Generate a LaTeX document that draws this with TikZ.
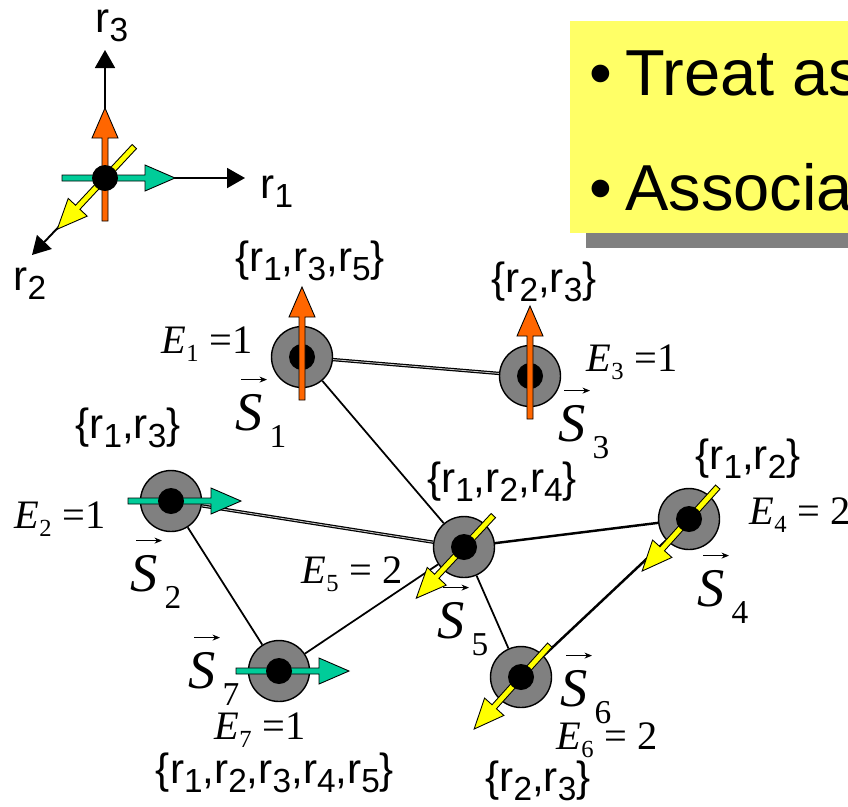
\documentclass[tikz,border=0pt]{standalone}
\usepackage{fontspec}
\setmainfont{Liberation Sans}
\newfontfamily\tms{Liberation Serif}
\usepackage{graphicx}
\usetikzlibrary{arrows.meta}
\definecolor{spinorange}{HTML}{FF6600}
\definecolor{spinteal}{HTML}{00CC99}
\definecolor{spinyellow}{HTML}{FFFF00}
\definecolor{notebg}{HTML}{FFFF66}
\definecolor{sitegray}{HTML}{808080}
\newcommand{\rsub}[1]{r\raisebox{-5pt}{\fontsize{19}{19}\selectfont #1}}
\newcommand{\Elbl}[2]{{\itshape E}\raisebox{-4.5pt}{\fontsize{14}{14}\selectfont #1}\hspace{6pt}#2}
\newcommand{\Slbl}[1]{{\itshape S}\kern4pt\raisebox{-10pt}{\fontsize{19}{19}\selectfont #1}}
\newcommand{\spinarrow}[3]{%
  \begin{scope}[shift={(#2)}, rotate=#3]
    \filldraw[fill=#1, draw=black, line width=0.5pt] (-43,-3) -- (40,-3) -- (40,-13) -- (70,0) -- (40,13) -- (40,3) -- (-43,3) -- cycle;
  \end{scope}}

\begin{document}
\begin{tikzpicture}[x=0.02cm, y=-0.02cm,
  site/.style={circle, draw, line width=0.8pt, fill=sitegray, minimum size=1.22cm, inner sep=0pt},
  setlbl/.style={font=\fontsize{24}{24}\selectfont, inner sep=0pt},
  elbl/.style={font=\fontsize{23}{23}\selectfont\tms, inner sep=0pt},
  svec/.style={font=\fontsize{31}{31}\selectfont\tms, inner sep=0pt, anchor=base west},
  varrow/.style={line width=0.6pt, -{Stealth[length=0.15cm, width=0.12cm]}},
  note/.style={font=\fontsize{37}{37}\selectfont, inner sep=0pt, anchor=base west},
  link/.style={line width=1pt},
  dlink/.style={double=gray!45, double distance=0.5pt, line width=0.7pt},
  axis/.style={line width=1.1pt, -{Triangle[length=0.36cm, width=0.4cm]}}]
\useasboundingbox (0,0) rectangle (848,806);
\clip (0,0) rectangle (848,806);

% note box
\fill[sitegray] (586,36) rectangle (880,248);
\fill[notebg] (570,21) rectangle (870,233);
\node[note] (b1) at (589,95) {\textbullet};
\node[note] (t1) at (625,95) {Treat as};
\node[note] (b2) at (589,210) {\textbullet};
\node[note] (t2) at (625,210) {Associa};

% spin axes
\coordinate (o) at (105,178);
\coordinate (ax1) at (245,178);
\coordinate (ax2) at (32,255);
\coordinate (ax3) at (105,50);
\draw[axis] (o) -- (ax1);
\draw[axis] (o) -- (ax2);
\draw[axis] (o) -- (ax3);
\node[setlbl] (r1) at (277,192) {\rsub{1}};
\node[setlbl] (r2) at (30,284) {\rsub{2}};
\node[setlbl] (r3) at (112,26) {\rsub{3}};
\spinarrow{spinorange}{o}{90}
\spinarrow{spinteal}{o}{0}
\spinarrow{spinyellow}{o}{227}
\fill (o) circle[radius=13];

% sites
\node[site] (s1) at (302,357) {};
\node[site] (s2) at (171,501) {};
\node[site] (s3) at (530,376) {};
\node[site] (s4) at (689,519) {};
\node[site] (s5) at (464,547) {};
\node[site] (s6) at (521,677) {};
\node[site] (s7) at (279,671) {};

\draw[dlink] (s1) -- (s3);
\draw[link] (s1) -- (s5);
\draw[dlink] (s2) -- (s5);
\draw[link] (s2) -- (s7);
\draw[link] (s7) -- (s5);
\draw[link, line width=1.4pt] (s5) -- (s4);
\draw[link] (s5) -- (s6);
\draw[link, line width=1.4pt] (s4) -- (s6);

\fill (s1) circle[radius=13];
\fill (s3) circle[radius=13];
\spinarrow{spinorange}{s1}{90}
\spinarrow{spinorange}{s3}{90}
\spinarrow{spinteal}{s2}{0}
\spinarrow{spinteal}{s7}{0}
\spinarrow{spinyellow}{s5}{227}
\spinarrow{spinyellow}{s4}{228}
\spinarrow{spinyellow}{s6}{228}
\foreach \s in {s2,s4,s5,s6,s7}
  \fill (\s) circle[radius=13];

% labels
\node[setlbl] (l1) at (310,261) {\{\rsub{1},\rsub{3},\rsub{5}\}};
\node[setlbl] (l2) at (128,428) {\{\rsub{1},\rsub{3}\}};
\node[setlbl] (l3) at (544,282) {\{\rsub{2},\rsub{3}\}};
\node[setlbl] (l4) at (748,459) {\{\rsub{1},\rsub{2}\}};
\node[setlbl] (l5) at (502,482) {\{\rsub{1},\rsub{2},\rsub{4}\}};
\node[setlbl] (l6) at (538,781) {\{\rsub{2},\rsub{3}\}};
\node[setlbl] (l7) at (275,773) {\{\rsub{1},\rsub{2},\rsub{3},\rsub{4},\rsub{5}\}};

\node[elbl] (e1) at (207,344) {\Elbl{1}{=1}};
\node[elbl] (e2) at (60,519) {\Elbl{2}{=1}};
\node[elbl] (e3) at (632,362) {\Elbl{3}{=1}};
\node[elbl] (e4) at (800,515) {\Elbl{4}{= 2}};
\node[elbl] (e5) at (352,574) {\Elbl{5}{= 2}};
\node[elbl] (e6) at (607,740) {\Elbl{6}{= 2}};
\node[elbl] (e7) at (260,730) {\Elbl{7}{=1}};

\node[svec] (v1) at (235,430) {\Slbl{1}};
\node[svec] (v2) at (130,591) {\Slbl{2}};
\node[svec] (v3) at (558,441) {\Slbl{3}};
\node[svec] (v4) at (697,606) {\Slbl{4}};
\node[svec] (v5) at (437,638) {\Slbl{5}};
\node[svec] (v6) at (560,706) {\Slbl{6}};
\node[svec] (v7) at (188,688) {\Slbl{7}};
\foreach \v in {v1,v2,v3,v4,v5,v6,v7}
  \draw[varrow] ([shift={(6,-14)}]\v.north west) -- ++(26,0);
\end{tikzpicture}
\end{document}
